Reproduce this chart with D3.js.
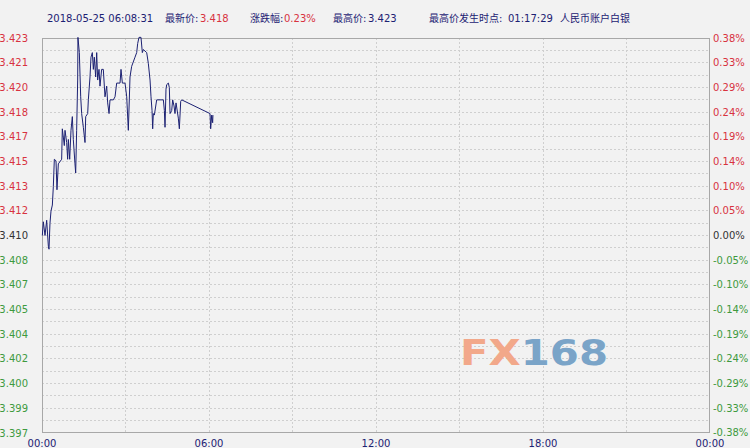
<!DOCTYPE html>
<html><head><meta charset="utf-8">
<script src="https://cdn.jsdelivr.net/npm/d3@7/dist/d3.min.js"></script>
<style>
html,body{margin:0;padding:0;background:#f2f2f2;}
svg{display:block;}
text{font-family:Tahoma,"DejaVu Sans","Noto Sans CJK SC",sans-serif;}
</style></head>
<body>
<svg id="chart" width="750" height="448"></svg>
<script>
// ---- data ----
const basePrice = 3.4100;
const priceTicks = ["3.423","3.421","3.420","3.418","3.417","3.415","3.413","3.412","3.410","3.408","3.407","3.405","3.404","3.402","3.400","3.399","3.397"];
const pctTicks = ["0.38%","0.33%","0.29%","0.24%","0.19%","0.14%","0.10%","0.05%","0.00%","-0.05%","-0.10%","-0.14%","-0.19%","-0.24%","-0.29%","-0.33%","-0.38%"];
const timeTicks = ["00:00","06:00","12:00","18:00","00:00"];
// minutes since 00:00
const minutes = [0.7,2.9,6.5,10.1,13.7,15.1,17.2,19.4,22.3,24.4,26.6,30.2,32.3,35.2,42.4,43.8,48.1,49.6,53.2,55.3,56.8,59.7,62.5,65.4,67.5,71.1,72.6,74.7,76.9,77.5,80.5,83.4,85.5,89.1,92.7,94.2,98.5,99.9,103.5,105.6,108.5,110.7,112.8,115.7,117.9,120.0,122.9,125.0,128.6,132.2,135.8,139.4,141.6,144.5,146.6,153.8,157.4,161.0,168.2,170.3,173.2,179.0,182.6,186.1,189.7,193.3,200.5,204.1,206.3,209.1,213.4,216.3,218.5,225.7,229.2,232.9,235.0,237.2,238.6,240.0,242.2,247.2,261.6,263.8,265.2,267.3,268.8,272.4,274.5,276.0,279.6,281.7,284.6,286.7,288.9,293.9,296.1,299.0,301.1,362.2,363.6,365.8,367.9,368.5];
const prices = [3.4100,3.4109,3.4100,3.4110,3.4093,3.4091,3.4108,3.4116,3.4120,3.4132,3.4150,3.4149,3.4130,3.4147,3.4150,3.4170,3.4159,3.4169,3.4161,3.4150,3.4163,3.4150,3.4169,3.4178,3.4163,3.4147,3.4141,3.4169,3.4202,3.4230,3.4220,3.4191,3.4180,3.4171,3.4161,3.4178,3.4180,3.4189,3.4204,3.4217,3.4220,3.4209,3.4217,3.4204,3.4220,3.4202,3.4209,3.4198,3.4209,3.4209,3.4191,3.4198,3.4187,3.4180,3.4189,3.4189,3.4191,3.4200,3.4200,3.4209,3.4200,3.4200,3.4191,3.4169,3.4204,3.4211,3.4217,3.4220,3.4226,3.4230,3.4230,3.4220,3.4222,3.4220,3.4213,3.4202,3.4191,3.4182,3.4170,3.4180,3.4179,3.4189,3.4189,3.4182,3.4171,3.4196,3.4199,3.4200,3.4197,3.4180,3.4182,3.4189,3.4185,3.4180,3.4187,3.4177,3.4170,3.4188,3.4189,3.4180,3.4170,3.4179,3.4174,3.4179];
const headerTime = "2018-05-25 06:08:31";
const lastPrice = "3.418";
const changePct = "0.23%";
const highPrice = "3.423";
const highTime = "01:17:29";
const title = "人民币账户白银";

// ---- layout ----
const L = 42, R = 710, T = 38, B = 433;
const span = basePrice * 0.0038;
const svg = d3.select("#chart");
const x = d3.scaleLinear().domain([0, 1440]).range([L, R]);
const y = d3.scaleLinear().domain([basePrice - span, basePrice + span]).range([B, T]);
const yi = d3.scaleLinear().domain([0, 16]).range([T, B]); // tick index

const navy = "#1c2173", red = "#d8323f", green = "#3e9a3e";

svg.append("rect").attr("x", L).attr("y", T).attr("width", R - L).attr("height", B - T).attr("fill", "#f2f2f2");

// horizontal grid (half steps)
const hg = d3.range(1, 32).map(i => T + (B - T) * i / 32);
svg.append("g").selectAll("line").data(hg).join("line")
  .attr("x1", L).attr("x2", R).attr("y1", d => d).attr("y2", d => d)
  .attr("stroke", "#cfcfcf").attr("stroke-width", 1).attr("stroke-dasharray", "2,2")
  .attr("shape-rendering", "crispEdges");
// vertical grid every 3h
svg.append("g").selectAll("line").data(d3.range(180, 1440, 180)).join("line")
  .attr("x1", d => x(d)).attr("x2", d => x(d)).attr("y1", T).attr("y2", B)
  .attr("stroke", "#cfcfcf").attr("stroke-width", 1).attr("stroke-dasharray", "2,2")
  .attr("shape-rendering", "crispEdges");

// watermark
const wm = svg.append("text").attr("x", 460).attr("y", 365)
  .style("font-family", "'DejaVu Sans', sans-serif").style("font-weight", "bold").style("font-size", "35px")
  .attr("textLength", 148).attr("lengthAdjust", "spacingAndGlyphs");
wm.append("tspan").attr("fill", "#f2a88a").text("FX");
wm.append("tspan").attr("fill", "#7aa4c8").text("168");

// border
svg.append("rect").attr("x", L + 0.5).attr("y", T + 0.5).attr("width", R - L - 1).attr("height", B - T - 1)
  .attr("fill", "none").attr("stroke", "#a8a8a8").attr("shape-rendering", "crispEdges");

// line
const line = d3.line().x((d, i) => x(minutes[i])).y(d => y(d));
svg.append("path").datum(prices).attr("d", line).attr("fill", "none")
  .attr("stroke", navy).attr("stroke-width", 1);

// left ticks
const tickColor = i => i < 8 ? red : (i === 8 ? "#333333" : green);
svg.append("g").selectAll("text").data(priceTicks).join("text")
  .attr("x", 28).attr("y", (d, i) => yi(i)).attr("dy", "0.35em").attr("text-anchor", "end")
  .attr("font-size", 10).attr("fill", (d, i) => tickColor(i)).text(d => d);
// right ticks
svg.append("g").selectAll("text").data(pctTicks).join("text")
  .attr("x", 713).attr("y", (d, i) => yi(i) - (i === 16 ? 1 : 0)).attr("dy", "0.35em").attr("text-anchor", "start")
  .attr("font-size", 10).attr("fill", (d, i) => tickColor(i)).text(d => d);
// bottom ticks
svg.append("g").selectAll("text").data(timeTicks).join("text")
  .attr("x", (d, i) => x(i * 360)).attr("y", 447).attr("text-anchor", "middle")
  .attr("font-size", 10).attr("fill", navy).text(d => d);

// header
const hy = 22;
function ht(xp, s, c) {
  svg.append("text").attr("x", xp).attr("y", hy).attr("font-size", 10).attr("fill", c).text(s);
}
ht(47, headerTime, navy);
ht(165, "最新价: ", navy); ht(200, lastPrice, red);
ht(250, "涨跌幅: ", navy); ht(284, changePct, red);
ht(333, "最高价: ", navy); ht(368, highPrice, navy);
ht(429, "最高价发生时点: ", navy); ht(508, highTime, navy);
ht(560, title, navy);
</script>
</body></html>
